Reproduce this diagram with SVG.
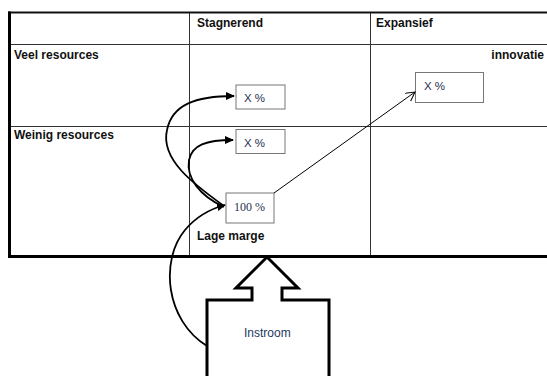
<svg xmlns="http://www.w3.org/2000/svg" width="547" height="376" viewBox="0 0 547 376">
<style>
.grid{stroke:#333;stroke-width:1;fill:none}
.h{font-family:"Liberation Sans",Arial,sans-serif;font-weight:bold;font-size:12px;fill:#111}
.box{fill:#fff;stroke:#777;stroke-width:1}
.bt{font-family:"Liberation Sans",Arial,sans-serif;font-size:11.5px;fill:#1f3050}
.curve{fill:none;stroke:#000;stroke-width:1.8}
</style>
<defs>
<marker id="fa" markerWidth="10" markerHeight="10" refX="8" refY="4" orient="auto" markerUnits="userSpaceOnUse">
<path d="M0,0 L9,4 L0,8 Z" fill="#000"/>
</marker>
<marker id="oa" markerWidth="12" markerHeight="12" refX="9" refY="5" orient="auto" markerUnits="userSpaceOnUse">
<path d="M0,0 L9,5 L0,10" fill="none" stroke="#000" stroke-width="1"/>
</marker>
</defs>
<rect width="547" height="376" fill="#fff"/>
<g id="table">
<line class="grid" x1="10" y1="44.5" x2="547" y2="44.5"/>
<line class="grid" x1="10" y1="126.5" x2="547" y2="126.5"/>
<line class="grid" x1="189.5" y1="13" x2="189.5" y2="256"/>
<line class="grid" x1="370.5" y1="13" x2="370.5" y2="256"/>
<line x1="8" y1="12.5" x2="547" y2="12.5" stroke="#111" stroke-width="2"/>
<line x1="9.5" y1="11.5" x2="9.5" y2="258" stroke="#000" stroke-width="3"/>
<line x1="8" y1="256.5" x2="547" y2="256.5" stroke="#000" stroke-width="3"/>
<text class="h" x="197" y="27">Stagnerend</text>
<text class="h" x="376" y="27">Expansief</text>
<text class="h" x="14" y="59">Veel resources</text>
<text class="h" x="14" y="139">Weinig resources</text>
<text class="h" x="544" y="59" text-anchor="end">innovatie</text>
<text class="h" x="197" y="240">Lage marge</text>
</g>
<g id="box-veel-stag">
<rect class="box" x="236" y="85" width="49" height="24"/>
<text class="bt" x="244" y="102">X %</text>
</g>
<g id="box-weinig-stag">
<rect class="box" x="236" y="129.5" width="49" height="24"/>
<text class="bt" x="244" y="147">X %</text>
</g>
<g id="box-100">
<rect class="box" x="226" y="193" width="48" height="30"/>
<text x="234" y="211" font-family="'Liberation Serif','Times New Roman',serif" font-size="12px" fill="#1f3050">100 %</text>
</g>
<g id="box-expansief">
<rect class="box" x="415.5" y="72.5" width="68" height="30"/>
<text class="bt" x="424" y="90">X %</text>
</g>
<g id="instroom">
<path d="M207,380 L207,300 L252,300 L252,288 L236,288 L267,257 L298,288 L282,288 L282,300 L329,300 L329,380" fill="#fff" stroke="#000" stroke-width="3" stroke-linejoin="miter"/>
<text x="244" y="337" font-family="'Liberation Sans',Arial,sans-serif" font-size="12px" fill="#243a5e">Instroom</text>
</g>
<g id="connectors">
<line x1="274" y1="193" x2="415" y2="92" stroke="#000" stroke-width="1" marker-end="url(#oa)"/>
<path class="curve" d="M224,206 C195,185 160,160 167,130 C172,105 195,96 234,96" marker-end="url(#fa)"/>
<path class="curve" d="M224,207 C200,196 186,178 189,160 C192,145 206,140 233,140" marker-end="url(#fa)"/>
<path class="curve" stroke-width="1.5" d="M207,346 C165,320 160,260 185,230 C195,218 210,209 225,205" marker-end="url(#fa)"/>
</g>
</svg>
